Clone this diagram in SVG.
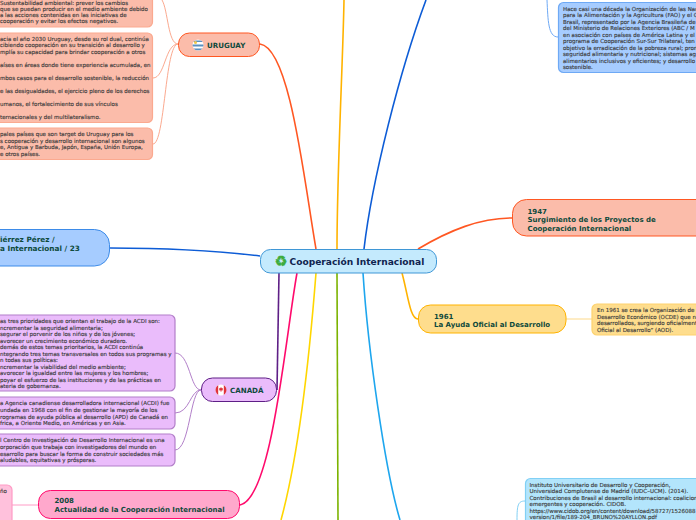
<svg xmlns="http://www.w3.org/2000/svg" width="696" height="520" viewBox="0 0 696 520">
<defs>
<clipPath id="fu"><circle cx="198" cy="45" r="5.500"/></clipPath>
<clipPath id="fc"><circle cx="221" cy="390" r="5.500"/></clipPath>
</defs>
<style>
text{font-family:"DejaVu Sans",Verdana,sans-serif}
.c{fill:none;stroke-width:1.6}
.s{fill:none;stroke-width:1}
.t{font-size:5.500px;fill:#3b3b3b;stroke:#3b3b3b;stroke-width:.14}
.h{font-size:7px;font-weight:700;fill:#0e4a3c}
.b{stroke-width:1.200;rx:5px}
.o{fill:#fbbcaa;stroke:#fba98f}
.p{fill:#eabcfb;stroke:#b27fc9}
.bl{fill:#a6ccff;stroke:#6ea9f5}
.cy{fill:#b3e5fc;stroke:#81d0f5}
.y{fill:#fedd8d;stroke:#fdd26e}
</style>
<g id="connectors">
<path class="c" stroke="#ff5722" d="M316 249C304 180 290 48 260 44"/>
<path class="c" stroke="#ffb300" d="M337 249C337 170 343 60 344 0"/>
<path class="c" stroke="#0d5cd6" d="M364 249C372 180 400 70 426 0"/>
<path class="c" stroke="#ff5722" d="M418 249C450 230 480 218 512 218"/>
<path class="c" stroke="#0d5cd6" d="M260 256C210 250 160 248 110 248"/>
<path class="c" stroke="#5e1f86" d="M279 273L277 390"/>
<path class="c" stroke="#ff0a6c" d="M297 273C285 340 272 498 240 505"/>
<path class="c" stroke="#ffd600" d="M316 273C310 350 300 450 281 520"/>
<path class="c" stroke="#7cb300" d="M337 273L338 520"/>
<path class="c" stroke="#1ea6ee" d="M363 273C368 350 385 470 400 520"/>
<path class="c" stroke="#ffb300" d="M402 273C408 295 410 319 418 319"/>
<path class="s" stroke="#fba98f" d="M178 44C168 44 168 10 162 0M178 44C165 44 165 78 153 78M178 44C165 44 165 144 153 144"/>
<path class="s" stroke="#b27fc9" d="M201 390C190 390 190 353 175 353M201 390C190 390 190 413 175 413M201 390C190 390 190 450 175 450"/>
<path class="s" stroke="#fdd98a" d="M566 319H592"/>
<path class="s" stroke="#ff9cc6" d="M38 505H12"/>
<path class="s" stroke="#6ea9f5" d="M547 0C548 20 548 37 558 37"/>
<path class="s" stroke="#81d0f5" d="M517 520C517 505 518 501 525 501"/>
</g>
<g id="uruguay">
<rect x="178.500" y="33" width="81" height="23.500" rx="11" fill="#fbbcaa" stroke="#ff5722"/>
<g clip-path="url(#fu)"><rect x="192" y="39" width="12" height="12" fill="#fff"/><path d="M192 40.500h12v1.500h-12zM192 44.500h12v2h-12zM192 48.500h12v2h-12z" fill="#5b8fc0"/><circle cx="195.500" cy="42.500" r="1.500" fill="#f2c94c"/></g>
<text x="207" y="48" class="h" style="font-size:7.100px">URUGUAY</text>
</g>
<g id="uruguay-1">
<rect x="-8" y="-8" width="160.500" height="35" class="b o"/>
<text class="t"><tspan x="0" y="4.500">Sustentabilidad ambiental: prever los cambios</tspan><tspan x="0" y="11">que se puedan producir en el medio ambiente debido</tspan><tspan x="0" y="17">a las acciones contenidas en las iniciativas de</tspan><tspan x="0" y="23">cooperación y evitar los efectos negativos.</tspan></text>
</g>
<g id="uruguay-2">
<rect x="-8" y="33" width="160.500" height="89.500" class="b o"/>
<text class="t"><tspan x="0" y="41">acia el año 2030 Uruguay, desde su rol dual, continúa</tspan><tspan x="0" y="47">cibiendo cooperación en su transición al desarrollo y</tspan><tspan x="0" y="54">mplía su capacidad para brindar cooperación a otros</tspan><tspan x="0" y="67">aíses en áreas donde tiene experiencia acumulada, en</tspan><tspan x="0" y="80">mbos casos para el desarrollo sostenible, la reducción</tspan><tspan x="0" y="93">e las desigualdades, el ejercicio pleno de los derechos</tspan><tspan x="0" y="106">umanos, el fortalecimiento de sus vínculos</tspan><tspan x="0" y="119">ternacionales y del multilateralismo.</tspan></text>
</g>
<g id="uruguay-3">
<rect x="-8" y="128" width="160.500" height="31.500" class="b o"/>
<text class="t"><tspan x="0" y="136">pales países que son target de Uruguay para los</tspan><tspan x="0" y="143">s cooperación y desarrollo internacional son algunos</tspan><tspan x="0" y="149">e, Antigua y Barbuda, Japón, España, Unión Europa,</tspan><tspan x="0" y="156">e otros países.</tspan></text>
</g>
<g id="autor">
<rect x="-40" y="229.500" width="149.500" height="36.500" rx="15" fill="#a6ccff" stroke="#3d8be8"/>
<text class="h" style="font-size:7.300px"><tspan x="0" y="242">iérrez Pérez /</tspan><tspan x="0" y="250.500">a Internacional / 23</tspan></text>
</g>
<g id="central">
<rect x="260.500" y="249.500" width="176" height="23.500" rx="10" fill="#c4eafd" stroke="#3f97d6"/>
<text x="281" y="266" font-size="14" fill="#3cab3c" stroke="#3cab3c" stroke-width=".6" text-anchor="middle">♻</text>
<text x="289.500" y="265" font-size="9.100" font-weight="700" fill="#10244f">Cooperación Internacional</text>
</g>
<g id="canada">
<rect x="201.500" y="378" width="75" height="23.500" rx="11" fill="#eabcfb" stroke="#5e1f86"/>
<g clip-path="url(#fc)"><rect x="215" y="384" width="12" height="12" fill="#fff"/><path d="M215 384h3.200v12H215zM223.800 384H227v12h-3.200z" fill="#e0323c"/><path d="M221 387l1 1.500 1-.5-.4 2.500h-3.200L219 388l1 .5zM220.700 390h.6v2h-.6z" fill="#e0323c"/></g>
<text x="230" y="393" class="h" style="font-size:7.100px">CANADÁ</text>
</g>
<g id="canada-1">
<rect x="-8" y="315" width="183" height="76" class="b p"/>
<text class="t"><tspan x="0" y="323">as tres prioridades que orientan el trabajo de la ACDI son:</tspan><tspan x="0" y="329.500">ncrementar la seguridad alimentaria;</tspan><tspan x="0" y="336">segurar el porvenir de los niños y de los jóvenes;</tspan><tspan x="0" y="342.500">avorecer un crecimiento económico duradero.</tspan><tspan x="0" y="349">demás de estos temas prioritarios, la ACDI continúa</tspan><tspan x="0" y="355.500">ntegrando tres temas transversales en todos sus programas y</tspan><tspan x="0" y="362">n todas sus políticas:</tspan><tspan x="0" y="368.500">ncrementar la viabilidad del medio ambiente;</tspan><tspan x="0" y="375">avorecer la igualdad entre las mujeres y los hombres;</tspan><tspan x="0" y="381.500">poyar el esfuerzo de las instituciones y de las prácticas en</tspan><tspan x="0" y="388">ateria de gobernanza.</tspan></text>
</g>
<g id="canada-2">
<rect x="-8" y="397" width="183" height="32" class="b p"/>
<text class="t"><tspan x="0" y="405">a Agencia canadiense desarrolladora internacional (ACDI) fue</tspan><tspan x="0" y="412">undada en 1968 con el fin de gestionar la mayoría de los</tspan><tspan x="0" y="418.500">rogramas de ayuda pública al desarrollo (APD) de Canadá en</tspan><tspan x="0" y="425">frica, a Oriente Medio, en Américas y en Asia.</tspan></text>
</g>
<g id="canada-3">
<rect x="-8" y="434" width="183" height="32" class="b p"/>
<text class="t"><tspan x="0" y="442">l Centro de Investigación de Desarrollo Internacional es una</tspan><tspan x="0" y="449">orporación que trabaja con investigadores del mundo en</tspan><tspan x="0" y="455.500">esarrollo para buscar la forma de construir sociedades más</tspan><tspan x="0" y="462">aludables, equitativas y prósperas.</tspan></text>
</g>
<g id="n2008">
<rect x="38.500" y="490.500" width="201" height="28" rx="12" fill="#ffa8cc" stroke="#ff0a6c"/>
<text class="h"><tspan x="54.500" y="503">2008</tspan><tspan x="54.500" y="511.500">Actualidad de la Cooperación Internacional</tspan></text>
</g>
<g id="n2008-1">
<rect x="-8" y="485" width="20" height="45" class="b" fill="#ffc1dc" stroke="#ff9cc6"/>
<text x="0" y="493" class="t">ño</text>
</g>
<g id="n1947">
<rect x="512.500" y="199.500" width="200" height="36.500" rx="14" fill="#fbbcaa" stroke="#ff5722"/>
<text class="h"><tspan x="527.500" y="213.500">1947</tspan><tspan x="527.500" y="221.500">Surgimiento de los Proyectos de</tspan><tspan x="527.500" y="230.500">Cooperación Internacional</tspan></text>
</g>
<g id="n1961">
<rect x="418.500" y="305" width="147.500" height="28" rx="12" fill="#fedd8d" stroke="#ffb300"/>
<text class="h"><tspan x="434" y="318.500">1961</tspan><tspan x="434" y="326.500">La Ayuda Oficial al Desarrollo</tspan></text>
</g>
<g id="n1961-1">
<rect x="592" y="304" width="120" height="31" class="b y"/>
<text class="t"><tspan x="597" y="312">En 1961 se crea la Organización de</tspan><tspan x="597" y="318.500">Desarrollo Económico (OCDE) que n</tspan><tspan x="597" y="325">desarrollados, surgiendo oficialment</tspan><tspan x="597" y="331.500">Oficial al Desarrollo” (AOD).</tspan></text>
</g>
<g id="fao">
<rect x="558.500" y="2.500" width="150" height="70" class="b bl"/>
<text class="t"><tspan x="563" y="11">Hace casi una década la Organización de las Nac</tspan><tspan x="563" y="17">para la Alimentación y la Agricultura (FAO) y el G</tspan><tspan x="563" y="24">Brasil, representado por la Agencia Brasileña de</tspan><tspan x="563" y="30">del Ministerio de Relaciones Exteriores (ABC / M</tspan><tspan x="563" y="37">en asociación con países de América Latina y el</tspan><tspan x="563" y="43">programa de Cooperación Sur-Sur Trilateral, ten</tspan><tspan x="563" y="50">objetivo la erradicación de la pobreza rural; prom</tspan><tspan x="563" y="56">seguridad alimentaria y nutricional; sistemas agr</tspan><tspan x="563" y="63">alimentarios inclusivos y eficientes; y desarrollo</tspan><tspan x="563" y="69">sostenible.</tspan></text>
</g>
<g id="refs">
<rect x="525.500" y="478.500" width="190" height="50" class="b cy"/>
<text class="t"><tspan x="529.500" y="487">Instituto Universitario de Desarrollo y Cooperación,</tspan><tspan x="529.500" y="493">Universidad Complutense de Madrid (IUDC–UCM). (2014).</tspan><tspan x="529.500" y="500">Contribuciones de Brasil al desarrollo internacional: coalicion</tspan><tspan x="529.500" y="506">emergentes y cooperación. CIDOB.</tspan><tspan x="529.500" y="513">https://www.cidob.org/en/content/download/58727/1526088</tspan><tspan x="529.500" y="519">version/1/file/189-204_BRUNO%20AYLLON.pdf</tspan></text>
</g>
</svg>
